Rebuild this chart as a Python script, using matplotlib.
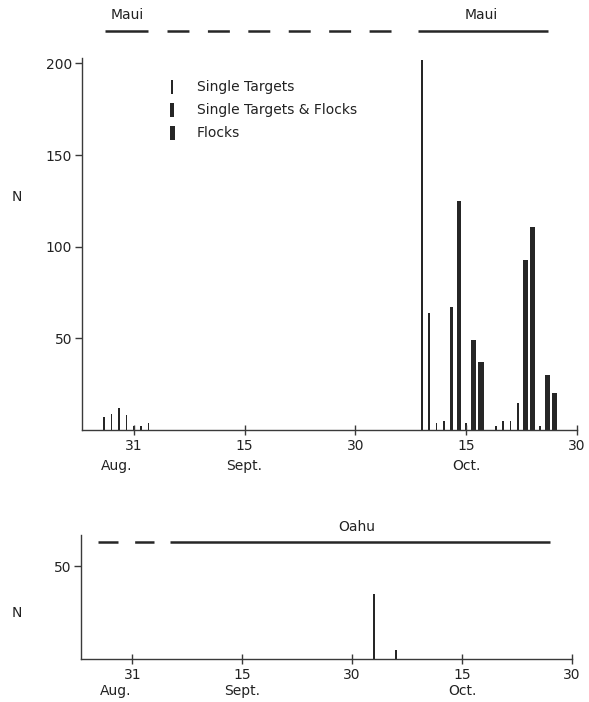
import datetime as dt
import matplotlib
matplotlib.use("Agg")
import matplotlib.pyplot as plt
from matplotlib.patches import Rectangle
from matplotlib.transforms import blended_transform_factory

plt.rcParams['font.family'] = ['DejaVu Sans']
plt.rcParams['lines.scale_dashes'] = False

# ---------------- data ----------------
maui_dates = ['08-27', '08-28', '08-29', '08-30', '08-31', '09-01', '09-02',
              '10-09', '10-10', '10-11', '10-12', '10-13', '10-14', '10-15', '10-16', '10-17',
              '10-19', '10-20', '10-21', '10-22', '10-23', '10-24', '10-25', '10-26', '10-27']
maui_n = [7, 9, 12, 8, 2, 2, 4,
          202, 64, 4, 5, 67, 125, 4, 49, 37,
          2, 5, 5, 15, 93, 111, 2, 30, 20]
maui_type = ['S', 'S', 'S', 'S', 'S', 'S', 'S',
             'S', 'S', 'S', 'S', 'SF', 'SF', 'S', 'F', 'F',
             'S', 'S', 'S', 'S', 'F', 'F', 'S', 'F', 'F']

oahu_dates = ['10-03', '10-06']
oahu_n = [35, 5]
oahu_type = ['S', 'S']

# observation coverage (days after 31 Aug): (start, end, solid?)
maui_cover = [(-3.9, 2.0, True), (4.5, 35.8, False), (38.5, 56.1, True)]
oahu_cover = [(-4.7, 3.0, False), (5.2, 57.0, True)]

x_ticks = [0, 15, 30, 45, 60]
x_ticklabels = ['31', '15', '30', '15', '30']
months = ['Aug.', 'Sept.', 'Oct.']
month_pos = [-2.3, 15, 45]

legend_labels = ['Single Targets', 'Single Targets & Flocks', 'Flocks']
legend_types = ['S', 'SF', 'F']

# ---------------- helpers ----------------
REF = dt.date(1975, 8, 31)


def day_of(s):
    m, d = s.split('-')
    return (dt.date(1975, int(m), int(d)) - REF).days


WIDTH = {'S': 0.21, 'SF': 0.5, 'F': 0.72}
INK = '#262626'
AXC = '#3a3a3a'

fig = plt.figure(figsize=(5.89, 7.02), dpi=100)
fig.patch.set_facecolor('white')

ax1 = fig.add_axes([82 / 589, 1 - 430 / 702, (577 - 82) / 589, (430 - 58) / 702])
ax2 = fig.add_axes([81 / 589, 1 - 659 / 702, (572 - 81) / 589, (659 - 535) / 702])


def style_axes(ax, ymax, yticks):
    ax.set_xlim(-7, 60)
    ax.set_ylim(0, ymax)
    for s in ['top', 'right']:
        ax.spines[s].set_visible(False)
    for s in ['left', 'bottom']:
        ax.spines[s].set_color(AXC)
        ax.spines[s].set_linewidth(1.0)
    ax.set_xticks(x_ticks)
    ax.set_xticklabels(x_ticklabels)
    ax.set_yticks(yticks)
    ax.set_yticklabels([str(v) for v in yticks])
    ax.tick_params(axis='x', direction='inout', length=7, width=1.0, color=AXC,
                   labelsize=10, pad=3, labelcolor='#222222')
    ax.tick_params(axis='y', direction='out', length=5, width=1.0, color=AXC,
                   labelsize=10, pad=2, labelcolor='#222222')
    tr = blended_transform_factory(ax.transData, ax.transAxes)
    return tr


tr1 = style_axes(ax1, 203, [50, 100, 150, 200])
tr2 = style_axes(ax2, 67, [50])

# bars
for ax, dates, vals, types in [(ax1, maui_dates, maui_n, maui_type),
                               (ax2, oahu_dates, oahu_n, oahu_type)]:
    xs = [day_of(d) for d in dates]
    ws = [WIDTH[t] for t in types]
    ax.bar(xs, vals, width=ws, color=INK, edgecolor='none', linewidth=0)

# month labels
for m, p in zip(months, month_pos):
    ax1.text(p, -0.097, m, transform=tr1, ha='center', va='center', fontsize=10, color='#222222')
    ax2.text(p, -0.255, m, transform=tr2, ha='center', va='center', fontsize=10, color='#222222')

# coverage lines above panels
for s, e, solid in maui_cover:
    ax1.plot([s, e], [218, 218], color=INK, lw=1.8, clip_on=False,
             solid_capstyle='butt', dash_capstyle='butt',
             linestyle='-' if solid else (0, (15.8, 13.3)))
ax1.text(-0.9, 226.5, 'Maui', ha='center', va='center', fontsize=10, color='#222222',
         clip_on=False)
ax1.text(47.1, 226.5, 'Maui', ha='center', va='center', fontsize=10, color='#222222',
         clip_on=False)

for s, e, solid in oahu_cover:
    ax2.plot([s, e], [63, 63], color=INK, lw=1.8, clip_on=False,
             solid_capstyle='butt', dash_capstyle='butt',
             linestyle='-' if solid else (0, (14.4, 12.0)))
ax2.text(30.6, 71.5, 'Oahu', ha='center', va='center', fontsize=10, color='#222222',
         clip_on=False)

# N labels
fig.text(17 / 589, 1 - 197 / 702, 'N', ha='center', va='center', fontsize=10, color='#222222')
fig.text(17 / 589, 1 - 613 / 702, 'N', ha='center', va='center', fontsize=10, color='#222222')

# legend (manual, in figure pixels)
leg_y = [87, 110, 133]
leg_w = {'S': 1.5, 'SF': 3.2, 'F': 5.0}
for lab, t, y in zip(legend_labels, legend_types, leg_y):
    w = leg_w[t]
    fig.patches.append(Rectangle(((172 - w / 2) / 589, 1 - (y + 7) / 702), w / 589, 14 / 702,
                                 transform=fig.transFigure, facecolor=INK, edgecolor='none'))
    fig.text(197 / 589, 1 - y / 702, lab, ha='left', va='center', fontsize=10, color='#222222')

fig.savefig('out.png', dpi=100, facecolor='white')
